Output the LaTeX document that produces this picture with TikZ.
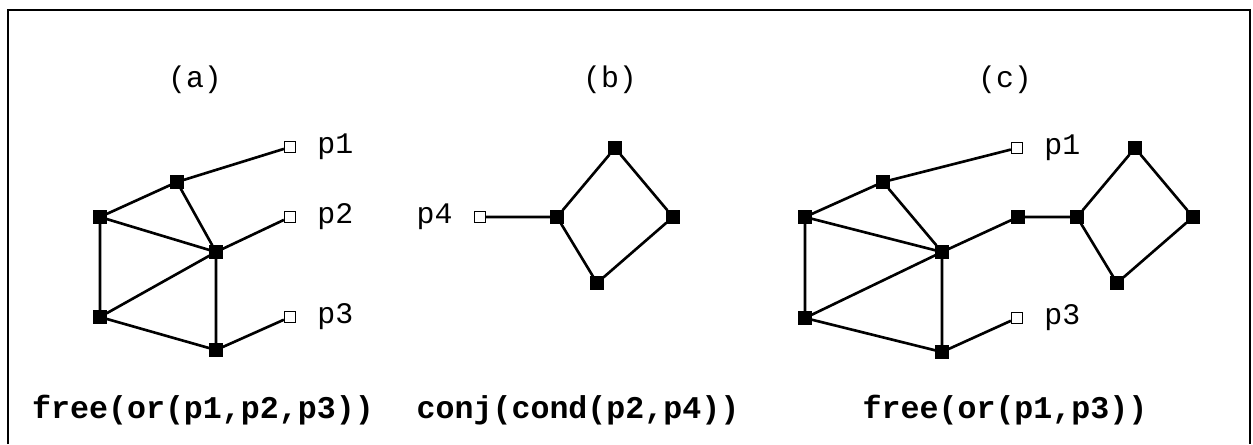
\documentclass[tikz,border=0pt]{standalone}
\usepackage{fontspec}
\setmonofont{Liberation Mono}
\usetikzlibrary{positioning}
\tikzset{
  full/.style={fill=black, draw=black, minimum size=0.25cm, inner sep=0pt},
  open/.style={fill=white, draw=black, line width=0.7pt, minimum size=0.22cm, inner sep=0pt},
  lbl/.style={font=\ttfamily\fontsize{17}{20}\selectfont, inner sep=0pt},
  caption/.style={font=\ttfamily\bfseries\fontsize{18}{22}\selectfont, inner sep=0pt},
  edge/.style={line width=1.5pt}
}

\begin{document}
\begin{tikzpicture}[x=0.02cm, y=-0.02cm]
    \useasboundingbox (0,0) rectangle (1253,444);
    \draw[line width=1.3pt] (8,444) -- (8,10) -- (1250,10) -- (1250,444);

    % (a)
    \node[lbl] (titlea) at (195,80) {(a)};
    \node[full] (at) at (177,182) {};
    \node[full] (al1) at (100,217) {};
    \node[full] (ac) at (216,252) {};
    \node[full] (al2) at (100,317) {};
    \node[full] (ab) at (216,350) {};
    \node[open] (ap1) at (290,147) {};
    \node[open] (ap2) at (290,217) {};
    \node[open] (ap3) at (290,317) {};
    \node[lbl, right=0.42cm of ap1] {p1};
    \node[lbl, right=0.42cm of ap2] {p2};
    \node[lbl, right=0.42cm of ap3] {p3};
    \draw[edge] (ap1) -- (at) -- (al1) -- (al2) -- (ab) -- (ac) -- (at);
    \draw[edge] (al1) -- (ac) -- (al2);
    \draw[edge] (ac) -- (ap2);
    \draw[edge] (ab) -- (ap3);
    \node[caption] (capa) at (203,410) {free(or(p1,p2,p3))};

    % (b)
    \node[lbl] (titleb) at (610,80) {(b)};
    \node[open] (bp4) at (480,217) {};
    \node[lbl, left=0.42cm of bp4] {p4};
    \node[full] (bl) at (557,217) {};
    \node[full] (bt) at (615,148) {};
    \node[full] (br) at (673,217) {};
    \node[full] (bb) at (597,283) {};
    \draw[edge] (bp4) -- (bl) -- (bt) -- (br) -- (bb) -- (bl);
    \node[caption] (capb) at (578,410) {conj(cond(p2,p4))};

    % (c)
    \node[lbl] (titlec) at (1005,80) {(c)};
    \node[full] (ct) at (883,182) {};
    \node[full] (cl1) at (805,217) {};
    \node[full] (cc) at (942,252) {};
    \node[full] (cl2) at (805,318) {};
    \node[full] (cb) at (942,352) {};
    \node[full] (cm) at (1018,217) {};
    \node[full] (cdl) at (1077,217) {};
    \node[full] (cdt) at (1135,148) {};
    \node[full] (cdr) at (1193,217) {};
    \node[full] (cdb) at (1117,283) {};
    \node[open] (cp1) at (1017,148) {};
    \node[open] (cp3) at (1017,318) {};
    \node[lbl, right=0.42cm of cp1] {p1};
    \node[lbl, right=0.42cm of cp3] {p3};
    \draw[edge] (cp1) -- (ct) -- (cl1) -- (cl2) -- (cb) -- (cc) -- (ct);
    \draw[edge] (cl1) -- (cc) -- (cl2);
    \draw[edge] (cc) -- (cm) -- (cdl) -- (cdt) -- (cdr) -- (cdb) -- (cdl);
    \draw[edge] (cb) -- (cp3);
    \node[caption] (capc) at (1005,410) {free(or(p1,p3))};
\end{tikzpicture}
\end{document}
